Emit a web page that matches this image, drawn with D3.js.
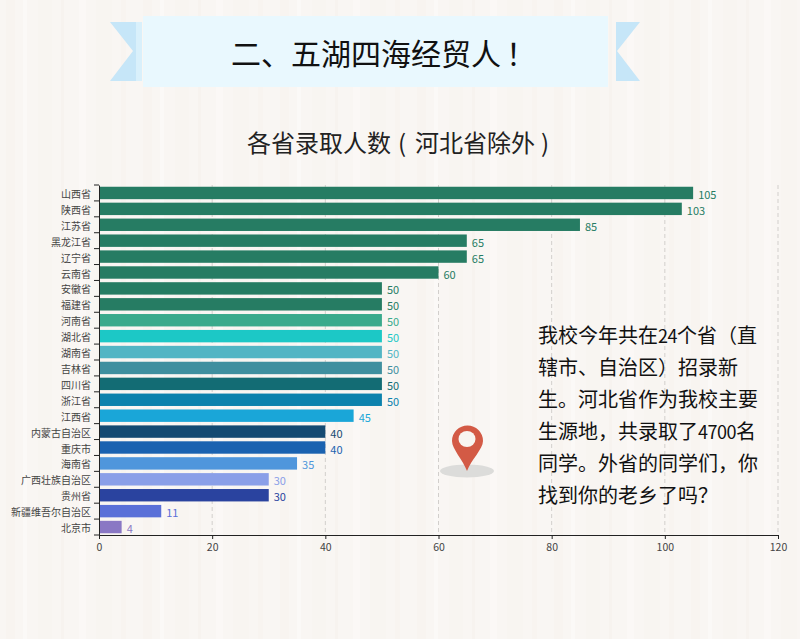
<!DOCTYPE html>
<html>
<head>
<meta charset="utf-8">
<script src="https://cdn.jsdelivr.net/npm/d3@7"></script>
<style>
  html, body { margin: 0; padding: 0; background: #f9f6f3; }
  text { font-family: "Noto Sans CJK SC", "Noto Sans", sans-serif; }
</style>
</head>
<body>
<div id="chart"></div>
<script>
// chart data
const provinces = ["山西省", "陕西省", "江苏省", "黑龙江省", "辽宁省", "云南省", "安徽省", "福建省", "河南省", "湖北省", "湖南省", "吉林省", "四川省", "浙江省", "江西省", "内蒙古自治区", "重庆市", "海南省", "广西壮族自治区", "贵州省", "新疆维吾尔自治区", "北京市"];
const counts = [105, 103, 85, 65, 65, 60, 50, 50, 50, 50, 50, 50, 50, 50, 45, 40, 40, 35, 30, 30, 11, 4];
const barColors = ["#267c63", "#267c63", "#267c63", "#267c63", "#267c63", "#267c63", "#267c63", "#267c63", "#3aaa8c", "#1cc8c6", "#52b5c4", "#3f8f9f", "#136c74", "#0c82ad", "#1aa6d8", "#144a72", "#1a62b0", "#4f96dc", "#8a9fe8", "#2a439f", "#5a70d8", "#8a78c4"];
const xTicks = [0, 20, 40, 60, 80, 100, 120];
const noteLines = ["我校今年共在24个省（直", "辖市、自治区）招录新", "生。河北省作为我校主要", "生源地，共录取了4700名", "同学。外省的同学们，你", "找到你的老乡了吗？"];

const width = 800, height = 639;
const margin = {top: 185, right: 22, bottom: 104, left: 99};

let svg = d3.select("#chart")
    .append("svg")
    .attr("width", width)
    .attr("height", height)
    .style("display", "block");

// background, faint vertical grain
let grain = svg.append("defs").append("pattern")
    .attr("id", "grain")
    .attr("patternUnits", "userSpaceOnUse")
    .attr("width", 137)
    .attr("height", height);
grain.append("rect").attr("width", 137).attr("height", height).attr("fill", "#f9f6f3");
[[6, 9, "#f8f4f0"], [23, 4, "#fbf9f7"], [38, 14, "#f8f5f1"], [61, 3, "#f7f3ef"], [79, 7, "#fbf8f6"], [96, 16, "#f8f5f1"], [121, 5, "#f8f4f0"]].forEach(function(s) {
    grain.append("rect").attr("x", s[0]).attr("width", s[1]).attr("height", height).attr("fill", s[2]);
});
svg.append("rect").attr("width", width).attr("height", height).attr("fill", "url(#grain)");

// title ribbon
svg.append("path").attr("d", "M110,22H136V81H110L133,51Z").attr("fill", "#c6e6f8");
svg.append("path").attr("d", "M640,22H616V81H640L617,51Z").attr("fill", "#c6e6f8");
svg.append("rect").attr("x", 136).attr("y", 22).attr("width", 6).attr("height", 59).attr("fill", "#d9f0fb");
svg.append("rect").attr("x", 143).attr("y", 16).attr("width", 465).attr("height", 71).attr("fill", "#e9f8fe");

let title = svg.append("text")
    .attr("y", 65)
    .attr("font-size", 30)
    .attr("fill", "#111");
title.append("tspan").attr("x", 231).text("二、五湖四海经贸人");
title.append("tspan").attr("x", 506).text("！");

// subtitle, the brackets are set apart from the words
let subtitle = svg.append("text")
    .attr("y", 152)
    .attr("font-size", 24)
    .attr("fill", "#222");
subtitle.append("tspan").attr("x", 247).text("各省录取人数");
subtitle.append("tspan").attr("x", 398).text("(");
subtitle.append("tspan").attr("x", 415).text("河北省除外");
subtitle.append("tspan").attr("x", 541).text(")");

let g = svg.append("g")
    .attr("transform", `translate(${margin.left}, ${margin.top})`);

let innerWidth = width - margin.left - margin.right;
let innerHeight = height - margin.top - margin.bottom;

let x = d3.scaleLinear()
    .domain([0, 120])
    .range([0, innerWidth]);

let y = d3.scaleBand()
    .domain(provinces)
    .range([0, innerHeight])
    .paddingInner(0.22)
    .paddingOuter(0.11);

// dashed grid
g.selectAll(".grid")
    .data(xTicks.slice(1))
    .enter()
    .append("line")
    .attr("x1", function(d) { return x(d); })
    .attr("x2", function(d) { return x(d); })
    .attr("y1", 0)
    .attr("y2", innerHeight)
    .attr("stroke", "#d2cfcc")
    .attr("stroke-dasharray", "4,3");

// bars
g.selectAll(".bar")
    .data(counts)
    .enter()
    .append("rect")
    .attr("x", 0)
    .attr("y", function(d, i) { return y(provinces[i]); })
    .attr("width", function(d) { return x(d); })
    .attr("height", y.bandwidth())
    .attr("fill", function(d, i) { return barColors[i]; });

// value labels
g.selectAll(".count")
    .data(counts)
    .enter()
    .append("text")
    .attr("x", function(d) { return x(d) + 5; })
    .attr("y", function(d, i) { return y(provinces[i]) + y.bandwidth() / 2 + 6; })
    .attr("font-size", 11)
    .attr("fill", function(d, i) { return barColors[i]; })
    .text(function(d) { return d; });

// y axis: ticks sit on band edges, so drawn from the step
let yAxis = g.append("g").call(d3.axisLeft(y).tickSize(0).tickPadding(8));
yAxis.select(".domain").attr("stroke", "#222");
yAxis.selectAll("text").attr("font-size", 10).attr("fill", "#444").attr("dy", "0.5em");
g.selectAll(".ytick")
    .data(d3.range(provinces.length + 1))
    .enter()
    .append("line")
    .attr("x1", -5)
    .attr("x2", 0)
    .attr("y1", function(d) { return d * y.step(); })
    .attr("y2", function(d) { return d * y.step(); })
    .attr("stroke", "#222");

// x axis
let xAxis = g.append("g")
    .attr("transform", `translate(0, ${innerHeight})`)
    .call(d3.axisBottom(x).tickValues(xTicks).tickSize(4).tickPadding(5).tickSizeOuter(0));
xAxis.select(".domain").attr("stroke", "#222");
xAxis.selectAll("line").attr("stroke", "#222");
xAxis.selectAll("text").attr("font-size", 10.5).attr("fill", "#444");

// map pin
svg.append("ellipse").attr("cx", 467).attr("cy", 471).attr("rx", 27).attr("ry", 6.5).attr("fill", "#dcdcda");
svg.append("path")
    .attr("d", "M467,471C463,460 452,449 452,441A15.5,15.5 0 0 1 483,441C483,449 471,460 467,471Z")
    .attr("fill", "#d35a45");
svg.append("ellipse").attr("cx", 467).attr("cy", 439).attr("rx", 8.5).attr("ry", 8).attr("fill", "#f8f5f1");

// side note, digits run narrower than the default face
let note = svg.selectAll(".note")
    .data(noteLines)
    .enter()
    .append("text")
    .attr("x", 538)
    .attr("y", function(d, i) { return 343 + i * 32; })
    .attr("font-size", 20)
    .attr("fill", "#111");
note.selectAll("tspan")
    .data(function(d) { return d.match(/\d+|\D+/g); })
    .enter()
    .append("tspan")
    .attr("font-size", function(d) { return /\d/.test(d) ? 18 : null; })
    .attr("letter-spacing", function(d) { return /\d/.test(d) ? -0.5 : null; })
    .text(function(d) { return d; });
</script>
</body>
</html>
